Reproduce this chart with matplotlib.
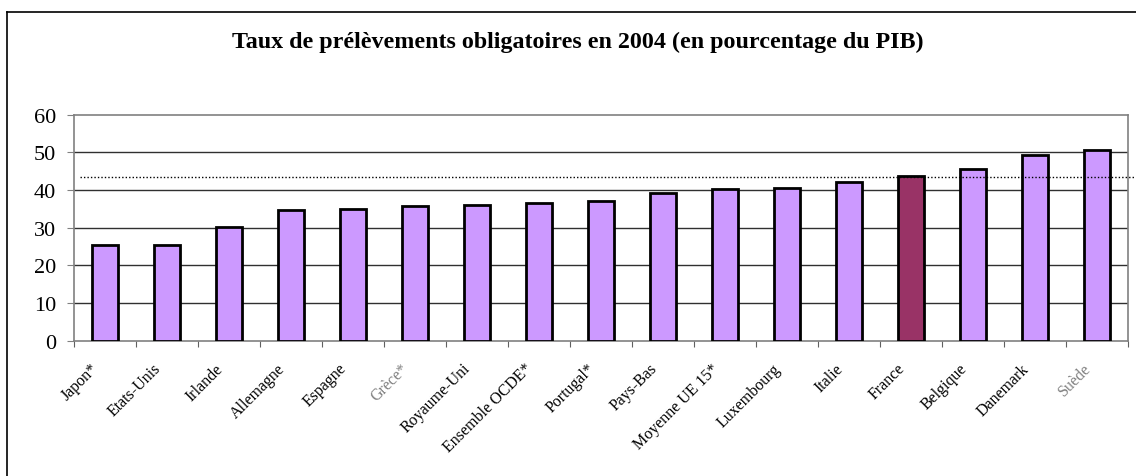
import matplotlib
matplotlib.use('Agg')
import matplotlib.pyplot as plt
import matplotlib.transforms as mtransforms
from matplotlib.lines import Line2D
import numpy as np

pays = ['Japon*', 'Etats-Unis', 'Irlande', 'Allemagne', 'Espagne', 'Grèce*',
        'Royaume-Uni', 'Ensemble OCDE*', 'Portugal*', 'Pays-Bas', 'Moyenne UE 15*',
        'Luxembourg', 'Italie', 'France', 'Belgique', 'Danemark', 'Suède']
taux = [25.4, 25.5, 30.2, 34.6, 35.1, 35.8, 36.1, 36.5, 37.1, 39.2, 40.4,
        40.5, 42.1, 43.7, 45.5, 49.4, 50.6]
niveau_france = 43.4
labels_gris = ['Grèce*', 'Suède']

plt.rcParams['font.family'] = ['Liberation Serif', 'DejaVu Serif']

fig = plt.figure(figsize=(11.36, 4.77), dpi=100)
ax = fig.add_axes([0.0651, 0.2836, 0.9279, 0.4738])

x = np.arange(len(pays))
couleurs = ['#993366' if p == 'France' else '#CC99FF' for p in pays]
ax.bar(x, taux, width=0.42, color=couleurs, edgecolor='black', linewidth=2.0, zorder=3)

# ligne pointillée au niveau de la France
ax.axhline(niveau_france, xmin=0.006, xmax=1.0076, color='black', linestyle=(0, (1, 1.5)),
           linewidth=1.0, clip_on=False, zorder=4)

ax.set_xlim(-0.5, len(pays) - 0.5)
ax.set_ylim(0, 60)
ax.set_yticks(range(0, 61, 10))
ax.tick_params(axis='y', labelsize=16, length=5, color='#808080', pad=8)
for yv in range(10, 60, 10):
    ax.axhline(yv, color='#303030', linewidth=1.0, zorder=1)

# ticks entre les catégories, étiquettes au centre
ax.set_xticks(np.arange(-0.5, len(pays), 1.0))
ax.set_xticklabels([])
ax.tick_params(axis='x', which='major', length=4, color='#606060')
ax.set_xticks(x, minor=True)
ax.set_xticklabels(pays, minor=True, rotation=45, ha='right', va='top', fontsize=11.5)
ax.tick_params(axis='x', which='minor', length=0, pad=14)
offset = mtransforms.ScaledTranslation(-3 / 100, 0, fig.dpi_scale_trans)
for lab in ax.get_xticklabels(minor=True):
    lab.set_transform(lab.get_transform() + offset)
    if lab.get_text() in labels_gris:
        lab.set_color('#808080')

for s in ax.spines.values():
    s.set_color('#808080')
    s.set_linewidth(1.2)

fig.text(0.509, 0.912, 'Taux de prélèvements obligatoires en 2004 (en pourcentage du PIB)',
         ha='center', va='center', fontsize=17.3, fontweight='bold')

# cadre extérieur
fig.add_artist(Line2D([7 / 1136, 7 / 1136], [0, 1 - 13 / 477], color='black', linewidth=1.2))
fig.add_artist(Line2D([7 / 1136, 1], [1 - 13 / 477, 1 - 13 / 477], color='black', linewidth=1.2))

fig.savefig('out.png', dpi=100)
